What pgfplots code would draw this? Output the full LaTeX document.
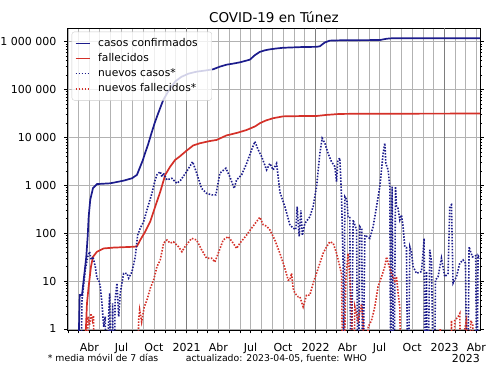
\documentclass[border=0pt]{standalone}
\usepackage{fontspec}
\setmainfont{DejaVu Sans}
\usepackage{pgfplots}
\pgfplotsset{compat=1.18}
\definecolor{cblue}{RGB}{28,28,140}
\definecolor{cred}{RGB}{212,48,40}
\definecolor{gridc}{RGB}{178,178,178}
\definecolor{yearc}{RGB}{125,125,125}
\begin{document}
\begin{tikzpicture}
\useasboundingbox (-67.7bp,-45bp) rectangle (432.3bp,330bp);
\begin{axis}[
  at={(0,0)}, anchor=south west, scale only axis,
  width=412.3bp, height=301.7bp,
  ymode=log, log basis y=10, ymin=0.95, ymax=1.9e6, xmin=30, xmax=1196,
  xtick={31,60,91,121,152,182,213,244,274,305,335,366,397,425,456,486,517,547,578,609,639,670,700,731,762,790,821,851,882,912,943,974,1004,1035,1065,1096,1127,1155,1186},
  xticklabels={,,Abr,,,Jul,,,Oct,,,2021,,,Abr,,,Jul,,,Oct,,,2022,,,Abr,,,Jul,,,Oct,,,2023,,,Abr},
  ytick={1,10,100,1000,10000,100000,1000000},
  yticklabels={1,10,100,1~000,10~000,100~000,1~000~000},
  minor ytick={2,3,4,5,6,7,8,9,20,30,40,50,60,70,80,90,200,300,400,500,600,700,800,900,2000,3000,4000,5000,6000,7000,8000,9000,20000,30000,40000,50000,60000,70000,80000,90000,200000,300000,400000,500000,600000,700000,800000,900000},
  grid=major, major grid style={gridc, line width=0.8bp},
  extra x ticks={366,731,1096}, extra x tick labels={},
  extra x tick style={major grid style={yearc, line width=0.9bp}},
  tick align=outside, xtick pos=left, ytick pos=both,
  major tick length=3.5bp, minor tick length=2bp,
  every tick/.style={black, line width=0.6bp},
  axis line style={black, line width=0.8bp},
  ticklabel style={font=\fontsize{11bp}{13bp}\selectfont},
  xticklabel style={anchor=base, inner sep=0pt, yshift=-17.7bp},
  yticklabel style={anchor=east, inner sep=0pt, xshift=-7.7bp},
  legend image code/.code={\draw[line width=1.6bp,#1] (0bp,0bp) -- (14bp,0bp);},
  legend cell align=left,
  legend style={at={(0,1)}, anchor=north west, xshift=4bp, yshift=-3.4bp,
    draw=black!20, rounded corners=2.5bp, fill=white, fill opacity=0.8, text opacity=1, draw opacity=1,
    font=\fontsize{10.7bp}{12bp}\selectfont, inner xsep=3bp, inner ysep=4bp,
    nodes={inner xsep=2bp, inner ysep=2.4bp, text height=8bp, text depth=2.3bp},
    /tikz/every odd column/.append style={column sep=5.7bp}},
]
\addplot[cblue, line width=1.7bp] table {
61 0.5
63.9 5.1
70.4 5.1
75.2 10.5
82.5 32
86.5 85
89.3 220
93.8 500
101.5 870
112.8 1060
150.4 1100
188.2 1250
211.7 1400
225.8 1650
235.2 2460
242.8 3400
248.4 4600
257 7000
267 12300
276 20000
286 32000
300 60000
319 105000
335 150000
352 185000
372 215000
394.5 236000
420 250000
441.5 265000
460 300000
479 330000
500 350000
517 370000
545 420000
559 520000
573 610000
588 660000
601.5 690000
620 720000
639 745000
690 770000
733.7 780000
743 800000
757 960000
771 1050000
809 1070000
912.6 1080000
931.6 1150000
950 1180000
1196 1180000
};
\addlegendentry{casos confirmados\hspace*{9bp}}
\addplot[cred, line width=1.7bp] table {
79.7 0.5
84.5 3.4
89.3 7.7
95.8 20
101.5 32
112.8 41
131.7 48
160 50
216.5 52
225.8 53
235.2 72
249.3 108
263.4 175
277.5 360
291.7 730
305.8 1650
319.9 2460
334.1 3400
346.5 3980
365 5200
385 6800
403.9 7550
432 8400
451 8850
479 11000
510 12500
536 14300
560 17000
573.5 19800
590 22500
611 25200
639 27500
700 28000
733 28000
762 29500
799 30900
850 31200
1196 31500
};
\addlegendentry{fallecidos}
\addplot[cblue, line width=1.6bp, dash pattern=on 1.5bp off 1.5bp] table {
65.6 0.01
70.4 4
79.7 17
86.5 32
92.1 41
95.8 28
101.5 32
108 20
112.8 11.5
117.6 10.5
122.1 7.7
126.9 3.4
131.7 1.1
136.2 1.8
141 0.01
145.8 1.8
148.7 5.6
152.3 0.01
157.1 3.4
160.8 0.01
164 4
169.3 9
174.1 1.8
178.6 5.6
188.2 14.5
197.6 14.5
202.4 11.5
211.7 15.5
221 32
227.8 91
235.2 127
244.8 175
254.1 305
268.2 680
277.5 1300
282.4 1650
291.7 1930
296.5 1500
300.7 1800
310.6 1300
324.7 1400
338.9 1100
350.2 1300
366.3 1930
383.3 3100
394.6 1800
408.7 860
422.8 680
437 630
449.1 630
460.4 1800
477.4 2270
488.7 1500
500.8 860
507.6 1300
521.8 1650
535.9 2850
550 5500
559.4 8200
568.7 5500
578.3 4000
592.4 2100
601.8 2850
611.1 2100
620.7 2850
625.2 1500
630 730
644.1 360
658.3 150
667.6 127
675.2 120
678.9 360
684.6 85
689.4 300
693.6 90
700.7 160
714.8 220
724.1 360
733.8 940
743.1 4600
749.6 9600
757.2 7600
766.5 4600
776.1 3100
785.5 2460
790.3 1200
794 3300
799.6 3700
804.4 580
808.9 24
810.9 0.01
813.7 580
819.4 500
823.1 220
827.9 220
830.7 0.01
837.2 190
846.9 117
851.3 0.01
856.2 137
861.8 120
863.8 0.01
870.3 91
884.4 78
893.8 137
903.4 360
912.7 940
922 4600
926.9 7600
929.7 2850
936.2 2100
941 940
943.8 0.01
947.4 940
952.4 0.01
957 940
959.8 360
964.1 330
969.2 190
973.9 240
978.5 137
983.3 52
988 50
992.6 0.01
997.5 52
1002.3 40
1006.8 20
1016.4 14.5
1030.6 15.8
1038 78
1040 0.01
1044.7 15.8
1047.5 0.01
1054 45
1058.8 25
1066.1 0.01
1070.1 10.5
1077.4 12.3
1087 30
1096.4 12.3
1105.7 14.5
1110.5 360
1115.3 390
1119.8 9
1129.4 12.3
1138.7 23.6
1148.1 27.6
1154.9 23.6
1160.5 0.01
1165.1 52
1169.9 40
1174.7 32
1184 34
1186.9 0.01
1190.5 34
1196 30
};
\addlegendentry{nuevos casos*}
\addplot[cred, line width=1.6bp, dash pattern=on 1.5bp off 1.5bp] table {
83.1 0.01
87.3 1.8
91.6 1.2
95.8 2.1
100 1.5
102.9 1.9
108 0.01
225.8 0.01
230.6 1.5
233.5 2.5
239.1 1.4
246.5 2.9
254.1 4
263.4 7
273 10.5
282.4 20
291.7 27.6
301.3 62
310.6 72
319.9 62
329 66
343.7 52
353 41
361.5 52
380.4 78
394.6 72
408.7 45
422.8 30
437 30
446.3 25
455.6 38
469.7 72
483.9 85
498 62
507.6 48
517 62
535.9 91
550 127
564.2 175
573.5 215
582.8 150
592.4 140
601.8 117
615.9 72
630 38
644.1 18.5
653.5 10.5
658.3 10.5
663.1 14.5
667.6 7
672.4 5.6
681.7 4.7
686.6 4.7
695.9 2.9
705.5 5.1
714.8 5.1
724.1 9
733.7 14.5
743.1 23.6
752.4 38
762 52
771.3 66
780.7 62
790.3 38
799.6 20
804.4 14
808.9 0.01
816.5 10.5
823.1 38
827.9 10.5
832.7 2.9
837.2 0.01
842 2.9
851.3 1.5
860.9 3.3
865.5 1.5
870.3 0.01
879.6 1.1
889.2 1.5
898.5 2.9
907.8 7.7
917.5 12.3
926.8 20
931.6 32
935.3 25
945.7 14.5
955.1 10
959.9 12.3
964.4 5.6
969.2 2.9
974 0.01
1082.3 0.01
1083.5 1
1085.1 0.01
1113 0.01
1115.3 1.5
1119 0.01
1124.7 1.5
1134 1.8
1138.8 2.1
1143.6 0.01
1152.9 1
1157.7 1.5
1161.4 0.01
1169.9 1.5
1175.5 1.2
1181.2 0.01
};
\addlegendentry{nuevos fallecidos*}
\end{axis}
\node[anchor=base, inner sep=0pt, font=\fontsize{13.5bp}{16bp}\selectfont] at (206.2bp,307.3bp) {COVID-19 en Túnez};
\node[anchor=base west, inner sep=0pt, font=\fontsize{9.3bp}{11bp}\selectfont] at (-20bp,-31.7bp) {* media móvil de 7 días};
\node[anchor=base west, inner sep=0pt, font=\fontsize{9.3bp}{11bp}\selectfont] at (118bp,-31.7bp) {actualizado: 2023-04-05, fuente: WHO};
\node[anchor=base east, inner sep=0pt, font=\fontsize{11bp}{13bp}\selectfont] at (412.3bp,-32.3bp) {2023};
\end{tikzpicture}
\end{document}
